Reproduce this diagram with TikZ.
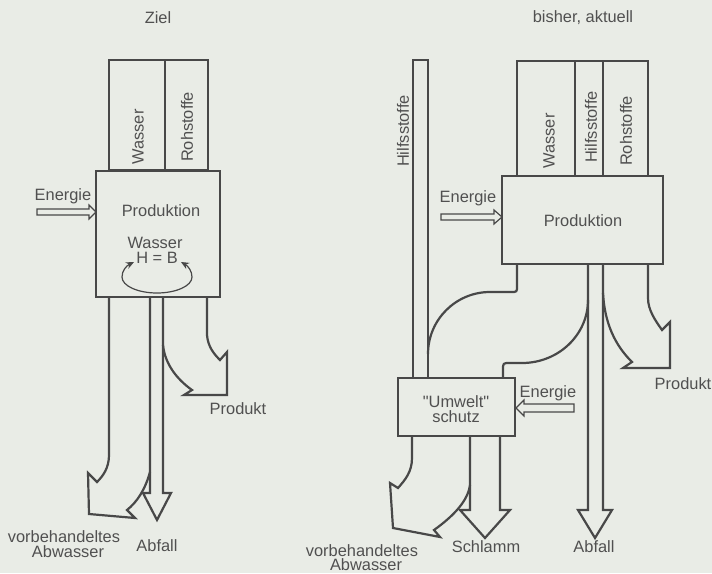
\documentclass[tikz,border=0pt]{standalone}
\usepackage{fontspec}
\setmainfont{Liberation Sans}
\newfontfamily\plainsans{Liberation Sans}
\usetikzlibrary{arrows.meta}
\definecolor{paper}{RGB}{233,236,230}
\definecolor{ink}{RGB}{72,72,72}
\definecolor{txt}{RGB}{80,80,80}
\begin{document}
\begin{tikzpicture}[x=0.5pt,y=-0.5pt,
  box/.style={draw=ink, line width=1.1pt, inner sep=0pt, outer sep=0pt},
  flow/.style={draw=ink, line width=1.1pt, line join=miter},
  lbl/.style={text=txt, font=\fontsize{8.2}{9.6}\selectfont, inner sep=0pt, align=center},
  vlbl/.style={lbl, rotate=90},
  hollow/.style={draw=ink, line width=0.6pt, line join=miter},
  cycarrow/.style={draw=ink, line width=0.6pt, {Stealth[length=4pt,width=3.5pt]}-{Stealth[length=4pt,width=3.5pt]}}]
\fill[paper] (0,0) rectangle (712,573);
\useasboundingbox (0,0) rectangle (712,573);
\clip (0,0) rectangle (712,573);

% ---------------- left: Ziel ----------------
\node[lbl] (zielT) at (158,18) {Ziel};
\node[box, minimum width=28pt, minimum height=55pt] (wasL) at (137,115) {};
\node[box, minimum width=21.5pt, minimum height=55pt] (rohL) at (186.5,115) {};
\node[box, minimum width=62pt, minimum height=63pt] (prodL) at (158,234) {};
\node[vlbl] (wasLT) at (138,137) {Wasser};
\node[vlbl] (rohLT) at (187,127) {Rohstoffe};
\node[lbl] (enLT) at (63,196) {Energie};
\node[lbl] (prodLT) at (161,211) {Produktion};
\node[lbl] (wasInT) at (155,243) {Wasser};
\node[lbl] (hbT) at (157,258) {H = B};

% energy arrow (hollow)
\draw[hollow] (37,209) -- (89,209) -- (89,205) -- (96,212) -- (89,219) -- (89,215) -- (37,215) -- cycle;

% water loop
\draw[cycarrow] (134,262) .. controls (126,266) and (122,271) .. (122,277)
  .. controls (122,286) and (138,293) .. (157,293)
  .. controls (176,293) and (192,286) .. (192,277)
  .. controls (192,271) and (188,266) .. (181,262);

% Abwasser (left)
\draw[flow] (109,297) -- (109,455) .. controls (109,468) and (103,476) .. (97,482)
  -- (88,473) -- (89,514) -- (135,518) -- (127,510)
  .. controls (137,502) and (145,490) .. (150,472);
% Abfall (left)
\draw[flow] (150,297) -- (150,493) -- (143,493) -- (157,520) -- (171,493) -- (163,493) -- (163,297);
% Produkt (left)
\draw[flow] (207,297) -- (207,335) .. controls (208,347) and (214,354) .. (220,360)
  -- (227,352) -- (227,395) -- (184,395) -- (192,390)
  .. controls (178,380) and (165,365) .. (163,345);

\node[lbl] (prodktLT) at (238,409) {Produkt};
\node[lbl] (abwL1) at (64,537) {vorbehandeltes};
\node[lbl] (abwL2) at (68,552) {Abwasser};
\node[lbl] (abfLT) at (157,546) {Abfall};

% ---------------- right: bisher, aktuell ----------------
\node[lbl] (bisherT) at (583,18) {bisher, aktuell};
\node[box, minimum width=7.5pt, minimum height=159pt] (hilfBar) at (420.5,219) {};
\node[box, minimum width=29pt, minimum height=57.5pt] (wasR) at (546,118.5) {};
\node[box, minimum width=14pt, minimum height=57.5pt] (hilfR) at (589,118.5) {};
\node[box, minimum width=22.5pt, minimum height=57.5pt] (rohR) at (625.5,118.5) {};
\node[box, minimum width=80.5pt, minimum height=44pt] (prodR) at (582.5,220) {};
\node[box, minimum width=58.5pt, minimum height=29pt] (umw) at (456.5,407) {};

\node[vlbl] (hilfBT) at (403,131) {Hilfsstoffe};
\node[vlbl] (wasRT) at (549,141) {Wasser};
\node[vlbl] (hilfRT) at (591,127) {Hilfsstoffe};
\node[vlbl] (rohRT) at (626,131) {Rohstoffe};
\node[lbl] (enRT) at (468,198) {Energie};
\node[lbl] (prodRT) at (583,221) {Produktion};
\node[lbl] (umwT1) at (456,402) {\plainsans "Umwelt"};
\node[lbl] (umwT2) at (456,417) {schutz};
\node[lbl] (enR2T) at (548,393) {Energie};

% energy arrows (hollow)
\draw[hollow] (441,214) -- (494,214) -- (494,210) -- (502,217) -- (494,224) -- (494,220) -- (441,220) -- cycle;
\draw[hollow] (574,404) -- (524,404) -- (524,400) -- (516,408) -- (524,416) -- (524,412) -- (574,412) -- cycle;

% waste water to Umweltschutz
\draw[flow] (517,264) -- (517,286) .. controls (517,292) .. (511,292) -- (490,292)
  .. controls (455.8,292) and (428,319.8) .. (428,354);
\draw[flow] (588,300) .. controls (588,334.8) and (558.5,363) .. (522,363) -- (510,363)
  .. controls (503,363) .. (503,370) -- (503,378);
% Abfall (right)
\draw[flow] (588,264) -- (588,510) -- (578,510) -- (595,538) -- (612,510) -- (603,510) -- (603,264);
% Produkt (right)
\draw[flow] (603,293) .. controls (605,330) and (620,350) .. (632,362)
  -- (623,368) -- (670,368) -- (670,322) -- (662,330)
  .. controls (655,320) and (648,310) .. (648,298) -- (648,264);
% Abwasser (right)
\draw[flow] (412,436) -- (412,458) .. controls (412,472) and (405,480) .. (398,488)
  -- (390,483) -- (393,528) -- (440,537) -- (434,530)
  .. controls (455,515) and (468,500) .. (470,485);
% Schlamm
\draw[flow] (470,436) -- (470,510) -- (460,510) -- (485,538) -- (510,510) -- (500,510) -- (500,436);

\node[lbl] (prodktRT) at (683,384) {Produkt};
\node[lbl] (abwR1) at (362,551) {vorbehandeltes};
\node[lbl] (abwR2) at (366,565) {Abwasser};
\node[lbl] (schT) at (486,547) {Schlamm};
\node[lbl] (abfRT) at (594,547) {Abfall};
\end{tikzpicture}
\end{document}
